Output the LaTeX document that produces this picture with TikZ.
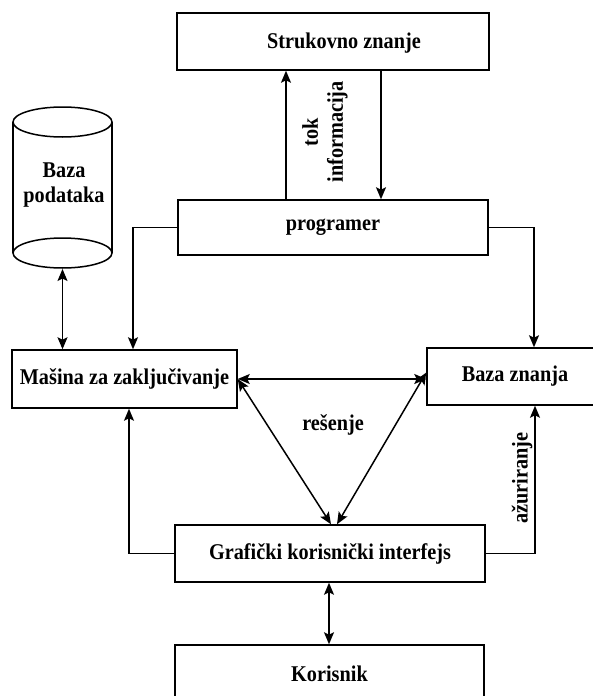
\documentclass[tikz,border=0pt]{standalone}
\usepackage{fontspec}
\setmainfont{Liberation Serif}[FakeStretch=0.9]
\usetikzlibrary{arrows.meta}
\begin{document}
\begin{tikzpicture}[x=1pt,y=-1pt,
  box/.style={draw, line width=1.5pt, inner sep=0pt},
  txt/.style={font=\fontsize{22.5}{25}\selectfont\bfseries, inner sep=0pt, align=center},
  tip/.style={Stealth[length=12pt,width=10pt,inset=2.5pt]},
  conn/.style={line width=1.5pt, -{Stealth[length=12pt,width=10pt,inset=2.5pt]}},
  conn2/.style={line width=1.5pt, {Stealth[length=12pt,width=10pt,inset=2.5pt]}-{Stealth[length=12pt,width=10pt,inset=2.5pt]}},
  line/.style={line width=1.5pt}
]
\useasboundingbox (0,0) rectangle (593,696);
\clip (0,0) rectangle (593,696);
\fill[white] (0,0) rectangle (593,696);

% boxes
\node[box, minimum width=312pt, minimum height=57pt] (struk) at (333,41.5) {};
\node[txt] (struktxt) at (344,43) {Strukovno znanje};
\node[box, minimum width=310pt, minimum height=55pt, txt, draw] (prog) at (333,227.5) {programer};
\node[box, minimum width=225pt, minimum height=58pt, txt, draw] (mas) at (124.5,379) {Mašina za zaključivanje};
\node[box, minimum width=176pt, minimum height=57pt, txt, draw] (baza) at (515,376.5) {Baza znanja};
\node[box, minimum width=310pt, minimum height=57pt, txt, draw] (gki) at (330,553.5) {Grafički korisnički interfejs};
\node[box, minimum width=309pt, minimum height=57pt, txt, draw] (kor) at (329.5,673.5) {Korisnik};

% cylinder
\draw[line] (13,122) -- (13,253);
\draw[line] (112,122) -- (112,253);
\draw[line] (62.5,122) ellipse [x radius=49.5, y radius=15];
\draw[line] (62.5,253) ellipse [x radius=49.5, y radius=15];
\node[txt] (db) at (64,185) {Baza\\podataka};
\coordinate (dbbot) at (62.5,269);

% connectors
\draw[conn] ([xshift=-47pt]prog.north) -- ([xshift=-47pt]struk.south);
\draw[conn] ([xshift=48pt]struk.south) -- ([xshift=48pt]prog.north);
\node[txt, rotate=90] (tok) at (325,132) {tok\\informacija};

\draw[conn] (prog.west) -| ([xshift=8.5pt]mas.north);
\draw[conn] (prog.east) -| ([xshift=19pt]baza.north);
\draw[conn2] (dbbot) -- (dbbot |- mas.north);

\draw[conn2] (mas.east) -- (mas.east -| baza.west);
\draw[conn2] (mas.east) -- ([xshift=1pt]gki.north);
\draw[conn2] ([yshift=4pt]baza.west) -- ([xshift=7pt]gki.north);
\node[txt] (res) at (333,425) {rešenje};

\draw[conn] (gki.west) -| ([xshift=4.5pt]mas.south);
\draw[conn] (gki.east) -| ([xshift=20pt]baza.south);
\node[txt, rotate=90] (azur) at (522,478) {ažuriranje};

\draw[conn2] ([xshift=-1pt]gki.south) -- ([xshift=-0.5pt]kor.north);
\end{tikzpicture}
\end{document}
